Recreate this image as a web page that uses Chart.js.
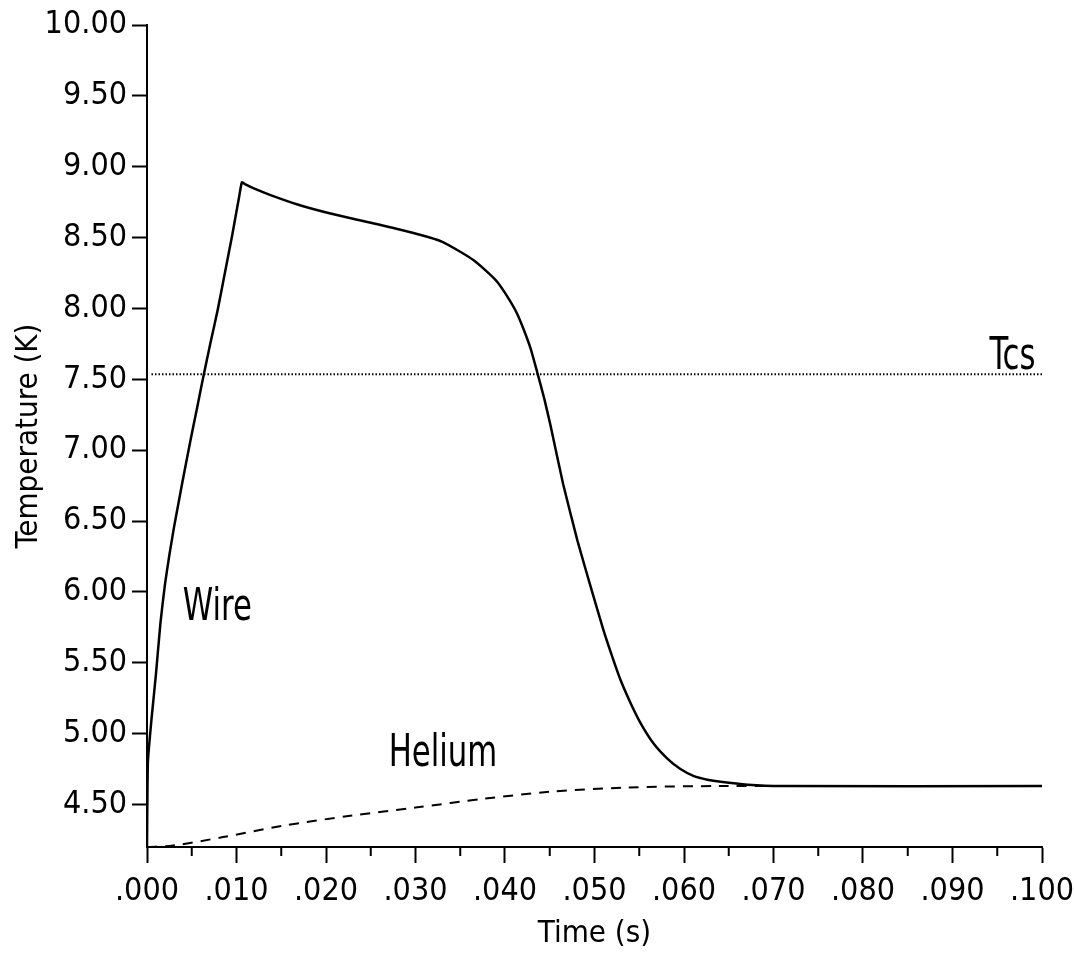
<!DOCTYPE html>
<html lang="en">
<head>
<meta charset="UTF-8">
<title>Wire and Helium Temperature</title>
<script src="https://cdn.jsdelivr.net/npm/chart.js"></script>
<style>
    body { margin: 0; background: #ffffff; }
    #wrap { width: 1074px; height: 959px; }
</style>
</head>
<body>
<div id="wrap"><canvas id="tempChart" width="1074" height="959"></canvas></div>
<script>
    // time in seconds, temperature in kelvin
    const wireTime = [0.0000, 0.0001, 0.0005, 0.0010, 0.0015, 0.0020, 0.0025, 0.0030, 0.0035, 0.0040,
                      0.0048, 0.0056, 0.0063, 0.0071, 0.0079, 0.0087, 0.0095, 0.0103, 0.0106, 0.0110,
                      0.0120, 0.0138, 0.0170, 0.0205, 0.0260, 0.0305, 0.0330, 0.0350, 0.0365, 0.0378,
                      0.0391, 0.0403, 0.0413, 0.0421, 0.0429, 0.0436, 0.0444, 0.0451, 0.0465, 0.0481,
                      0.0496, 0.0510, 0.0520, 0.0529, 0.0540, 0.0551, 0.0566, 0.0582, 0.0596, 0.0611,
                      0.0626, 0.0641, 0.0671, 0.0708, 0.1000];
    const wireTemp = [4.20, 4.80, 5.10, 5.42, 5.78, 6.05, 6.26, 6.45, 6.62, 6.79,
                      7.05, 7.30, 7.52, 7.76, 7.99, 8.25, 8.51, 8.79, 8.89, 8.875,
                      8.845, 8.80, 8.73, 8.67, 8.59, 8.52, 8.47, 8.40, 8.34, 8.27,
                      8.19, 8.08, 7.97, 7.85, 7.71, 7.55, 7.36, 7.17, 6.76, 6.36,
                      6.03, 5.73, 5.54, 5.38, 5.22, 5.08, 4.93, 4.82, 4.75, 4.70,
                      4.675, 4.66, 4.64, 4.63, 4.63];

    const heliumTime = [0.0000, 0.0029, 0.0085, 0.0152, 0.0227, 0.0302, 0.0376, 0.0451, 0.0537, 0.0640, 0.1000];
    const heliumTemp = [4.20, 4.21, 4.27, 4.35, 4.42, 4.48, 4.54, 4.59, 4.62, 4.63, 4.63];

    const tcsTime = [0.0005, 0.1000];
    const tcsTemp = [7.535, 7.535];

    const yTickValues = [4.5, 5.0, 5.5, 6.0, 6.5, 7.0, 7.5, 8.0, 8.5, 9.0, 9.5, 10.0];
    const xMinorTicks = [0.005, 0.015, 0.025, 0.035, 0.045, 0.055, 0.065, 0.075, 0.085, 0.095];

    const curveLabels = [
        { text: 'Tcs', x: 0.0967, y: 7.57, align: 'center' },
        { text: 'Wire', x: 0.0040, y: 5.80, align: 'left' },
        { text: 'Helium', x: 0.0270, y: 4.77, align: 'left' }
    ];

    const fontFamily = "'Liberation Sans Narrow', 'DejaVu Sans Condensed', 'Liberation Sans', sans-serif";
    Chart.defaults.font.family = fontFamily;
    Chart.defaults.color = '#000';

    function toPoints(xs, ys) {
        return xs.map((x, i) => ({ x: x, y: ys[i] }));
    }

    // short ticks halfway between the labelled ones on the time axis
    const minorTicks = {
        id: 'minorTicks',
        afterDraw(chart) {
            const ctx = chart.ctx;
            const xs = chart.scales.x;
            ctx.save();
            ctx.strokeStyle = '#000';
            ctx.lineWidth = 2;
            xMinorTicks.forEach(v => {
                const px = xs.getPixelForValue(v);
                ctx.beginPath();
                ctx.moveTo(px, xs.top);
                ctx.lineTo(px, xs.top + 9);
                ctx.stroke();
            });
            ctx.restore();
        }
    };

    // curve names, drawn tall and narrow
    const curveText = {
        id: 'curveText',
        afterDatasetsDraw(chart) {
            const ctx = chart.ctx;
            ctx.save();
            ctx.fillStyle = '#000';
            ctx.font = '45px ' + fontFamily;
            ctx.textBaseline = 'alphabetic';
            curveLabels.forEach(l => {
                ctx.save();
                ctx.translate(chart.scales.x.getPixelForValue(l.x), chart.scales.y.getPixelForValue(l.y));
                ctx.scale(0.76, 1);
                ctx.textAlign = l.align;
                ctx.fillText(l.text, 0, 0);
                ctx.restore();
            });
            ctx.restore();
        }
    };

    new Chart(document.getElementById('tempChart'), {
        type: 'line',
        data: {
            datasets: [
                {
                    label: 'Wire',
                    data: toPoints(wireTime, wireTemp),
                    borderColor: '#000',
                    borderWidth: 2.5,
                    pointRadius: 0,
                    tension: 0.15,
                    order: 0
                },
                {
                    label: 'Helium',
                    data: toPoints(heliumTime, heliumTemp),
                    borderColor: '#000',
                    borderWidth: 2,
                    borderDash: [10, 8],
                    pointRadius: 0,
                    tension: 0.3,
                    order: 1
                },
                {
                    label: 'Tcs',
                    data: toPoints(tcsTime, tcsTemp),
                    borderColor: '#000',
                    borderWidth: 2,
                    borderDash: [1.5, 2],
                    pointRadius: 0,
                    order: 2
                }
            ]
        },
        options: {
            responsive: false,
            animation: false,
            layout: { padding: { top: 25, right: 32, left: 0, bottom: 0 } },
            plugins: {
                legend: { display: false },
                tooltip: { enabled: false }
            },
            scales: {
                x: {
                    type: 'linear',
                    min: 0,
                    max: 0.1,
                    afterFit(scale) {
                        scale.height = 112;
                        scale.paddingLeft = 0;
                        scale.paddingRight = 0;
                    },
                    border: { display: true, color: '#000', width: 2 },
                    grid: { drawOnChartArea: false, drawTicks: true, tickLength: 16, tickWidth: 2, tickColor: '#000' },
                    ticks: {
                        stepSize: 0.01,
                        padding: 9,
                        maxRotation: 0,
                        font: { size: 32 },
                        callback: v => v.toFixed(3).replace(/^0/, '')
                    },
                    title: {
                        display: true,
                        text: 'Time (s)',
                        font: { size: 31 },
                        padding: { bottom: 6 }
                    }
                },
                y: {
                    min: 4.2,
                    max: 10,
                    afterFit(scale) {
                        scale.width = 147;
                        scale.paddingTop = 0;
                    },
                    afterBuildTicks(scale) { scale.ticks = yTickValues.map(v => ({ value: v })); },
                    border: { display: true, color: '#000', width: 2 },
                    grid: { drawOnChartArea: false, drawTicks: true, tickLength: 15, tickWidth: 2, tickColor: '#000' },
                    ticks: {
                        padding: 5,
                        font: { size: 32 },
                        callback: v => v.toFixed(2)
                    },
                    title: {
                        display: true,
                        text: 'Temperature (K)',
                        font: { size: 31 },
                        padding: { top: 10 }
                    }
                }
            }
        },
        plugins: [minorTicks, curveText]
    });
</script>
</body>
</html>
